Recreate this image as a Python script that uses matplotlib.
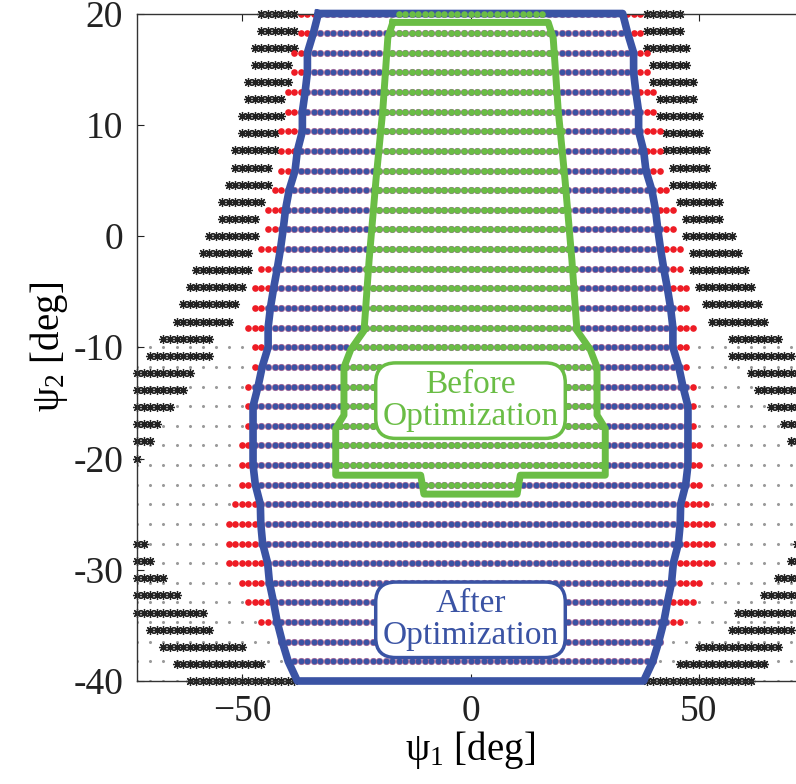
import numpy as np
import matplotlib.pyplot as plt

plt.rcParams['font.family'] = ['Liberation Serif', 'DejaVu Serif']
plt.rcParams['mathtext.fontset'] = 'custom'
plt.rcParams['mathtext.rm'] = 'Liberation Serif'
plt.rcParams['mathtext.it'] = 'Liberation Serif'

BLUE = '#3a53a4'
RED = '#ee1c25'
GREEN = '#6abd45'
STAR = '#222222'
GREY = '#9a9a9a'

# sampling grid in psi1 [deg]
X_STEP = 1.43
X_MAX = 73

# dot rows (psi2, top to bottom) and half-widths of each region [deg]
psi2_rows = np.linspace(20, -40, 35)
red_half = [37.7, 37.7, 39.1, 39.1, 40.5, 40.5, 42.0, 42.0, 42.0, 43.4,
            44.9, 44.9, 46.5, 46.5, 47.8, 47.8, 48.2, 47.8, 47.8, 49.3,
            49.3, 49.3, 50.8, 50.8, 50.8, 52.1, 53.0, 53.0, 53.0, 49.9,
            48.6, 45.5, 42.3, 0.0, 0.0]
blue_half = [33.3, 34.4, 35.7, 35.7, 36.2, 36.8, 36.8, 37.9, 38.4, 39.7,
             40.5, 41.0, 41.6, 42.3, 43.1, 43.8, 44.3, 44.3, 45.6, 46.5,
             47.6, 47.6, 47.6, 47.6, 47.1, 46.0, 45.9, 45.5, 44.4, 44.0,
             43.1, 42.3, 41.2, 39.9, 37.9]
green_half = [16.0, 17.5, 18.3, 18.6, 18.9, 19.2, 19.6, 20.0, 20.5, 20.9,
              21.3, 21.7, 22.0, 22.4, 22.7, 23.0, 23.3, 25.5, 27.0, 27.0,
              27.0, 29.0, 29.0, 29.0, 9.8, 0, 0, 0, 0, 0,
              0, 0, 0, 0, 0]
grey_rows = [0] * 17 + [1] * 18

# asterisk rows: inner / outer |psi1| on both sides
star_rows = np.linspace(20, -40, 40)
star_inner = [38.8, 38.8, 38.8, 40.1, 40.1, 41.6, 41.6, 43.1, 43.1, 44.4,
              44.4, 45.9, 46.3, 47.4, 48.1, 49.1, 50.4, 50.8, 52.6, 56.3,
              57.6, 60.7, 62.0, 65.0, 68.0, 69.5, 72.5, np.nan, np.nan, np.nan,
              np.nan, 70.7, 69.5, 66.4, 63.5, 59.0, 56.3, 50.4, 46.0, 38.1]
star_outer = [45.4, 45.4, 46.9, 46.9, 48.4, 48.4, 49.7, 49.7, 51.3, 51.3,
              52.8, 54.3, 55.1, 57.0, 58.5, 60.0, 61.3, 62.8, 64.3, 67.9,
              70.7, 73, 73, 73, 73, 73, 73, np.nan, np.nan, np.nan,
              np.nan, 73, 73, 73, 73, 73, 70.7, 67.9, 65.0, 61.2]

# right half of the "before" outline, top to bottom
green_line_x = [17.0, 18.1, 19.2, 20.7, 22.2, 23.3, 26.2, 27.7, 27.7, 29.5, 29.5, 10.9, 10.2]
green_line_y = [19.2, 17.8, 11.3, 5.0, -2.2, -8.5, -10.2, -11.8, -16.1, -17.3, -21.5, -21.5, -23.2]

xs = np.arange(-round(X_MAX / X_STEP), round(X_MAX / X_STEP) + 1) * X_STEP
k_even = (np.arange(xs.size) % 2) == 0

pts = {'grey': ([], []), 'red': ([], []), 'blue': ([], []), 'green': ([], []), 'star': ([], [])}
for y, r, b, g, gr in zip(psi2_rows, red_half, blue_half, green_half, grey_rows):
    a = np.abs(xs)
    r = max(r, b)
    sel = {
        'grey': (a > r + 0.7) & k_even & bool(gr),
        'red': (a > b + 0.7) & (a <= r + 0.5),
        'blue': a <= b + 0.7,
        'green': (a <= g + 0.5) if g > 0 else np.zeros_like(a, bool),
    }
    for key, m in sel.items():
        pts[key][0].extend(xs[m])
        pts[key][1].extend([y] * int(m.sum()))

for y, lo, hi in zip(star_rows, star_inner, star_outer):
    if np.isnan(lo):
        continue
    a = np.abs(xs)
    m = (a >= lo - 0.5) & (a <= hi + 0.5)
    pts['star'][0].extend(xs[m])
    pts['star'][1].extend([y] * int(m.sum()))

fig = plt.figure(figsize=(7.96, 7.84), dpi=100)
ax = fig.add_axes([137 / 796, 103 / 784, 667 / 796, 667.5 / 784])

ax.plot(*pts['grey'], ls='none', marker='o', ms=1.2, color=GREY, zorder=1)
ax.plot(*pts['star'], ls='none', marker=(8, 2, 0), ms=6.5, mew=0.9, color=STAR,
        zorder=2, clip_on=False)
ax.plot(*pts['red'], ls='none', marker='o', ms=4.8, mew=0, color=RED, zorder=2)
ax.plot(*pts['blue'], ls='none', marker='o', ms=4.7, mew=0.4, mec='#b05a8a',
        color=BLUE, zorder=3)

bx = np.array(blue_half)
by = psi2_rows
ax.plot(np.r_[-bx[0], bx, -bx[::-1]], np.r_[by[0], by, by[::-1]],
        color=BLUE, lw=5.5, zorder=4, clip_on=False)

ax.plot(*pts['green'], ls='none', marker='o', ms=4.7, mew=0, color=GREEN,
        zorder=5, clip_on=False)

gx = np.array(green_line_x)
gy = np.array(green_line_y)
ax.plot(np.r_[-gx[0], gx, -gx[::-1]], np.r_[gy[0], gy, gy[::-1]],
        color=GREEN, lw=5, zorder=6)

ax.text(0, -14.8, 'Before\nOptimization', color=GREEN, fontsize=24,
        ha='center', va='center', linespacing=1.05, zorder=8,
        bbox=dict(boxstyle='round,pad=0.2,rounding_size=0.6', fc='white',
                  ec=GREEN, lw=2.5))
ax.text(0, -34.5, 'After\nOptimization', color=BLUE, fontsize=24,
        ha='center', va='center', linespacing=1.05, zorder=8,
        bbox=dict(boxstyle='round,pad=0.2,rounding_size=0.6', fc='white',
                  ec=BLUE, lw=2.5))

ax.set_xlim(-73, 73)
ax.set_ylim(-40, 20)
ax.set_xticks([-50, 0, 50])
ax.set_xticklabels(['\u221250', '0', '50'])
ax.set_yticks([-40, -30, -20, -10, 0, 10, 20])
ax.set_yticklabels(['-40', '-30', '-20', '-10', '0', '10', '20'])
ax.tick_params(direction='in', length=5, width=0.8, labelsize=27, pad=10,
               top=True, right=True, colors='#222222')
for s in ax.spines.values():
    s.set_linewidth(1.0)
    s.set_color('#333333')

ax.set_xlabel('\u03c8$_1$ [deg]', fontsize=28, labelpad=0)
ax.set_ylabel('\u03c8$_2$ [deg]', fontsize=28, labelpad=2)

fig.savefig('out.png', dpi=100, facecolor='white')
